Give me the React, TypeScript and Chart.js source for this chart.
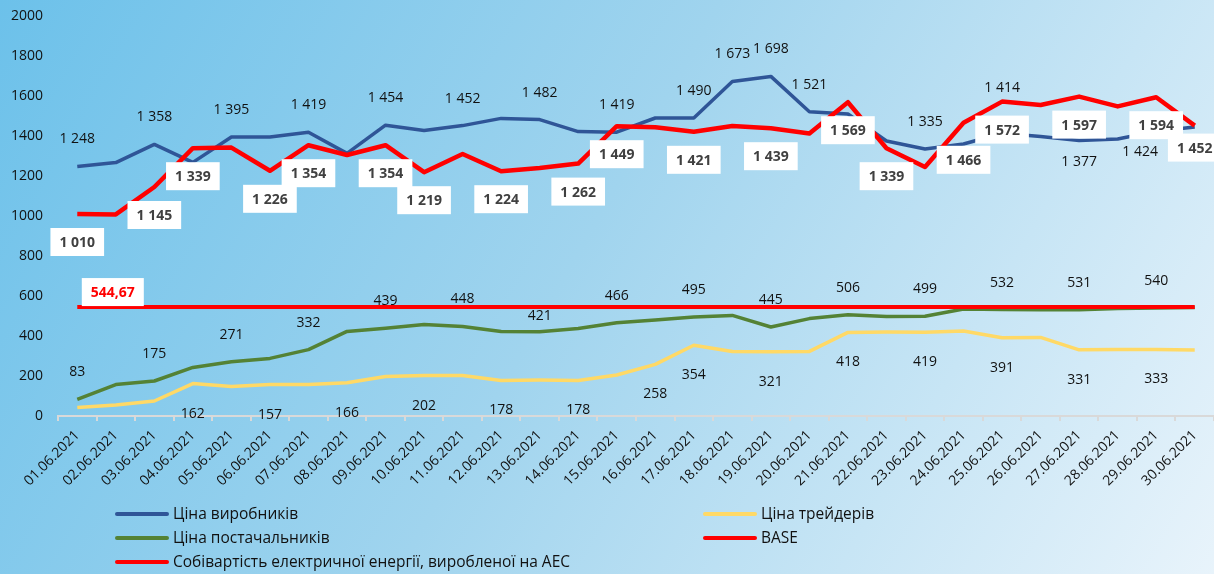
import { useEffect, useRef } from 'react';
import { Chart, registerables } from 'chart.js';

Chart.register(...registerables);

const categories = [
  '01.06.2021', '02.06.2021', '03.06.2021', '04.06.2021', '05.06.2021', '06.06.2021',
  '07.06.2021', '08.06.2021', '09.06.2021', '10.06.2021', '11.06.2021', '12.06.2021',
  '13.06.2021', '14.06.2021', '15.06.2021', '16.06.2021', '17.06.2021', '18.06.2021',
  '19.06.2021', '20.06.2021', '21.06.2021', '22.06.2021', '23.06.2021', '24.06.2021',
  '25.06.2021', '26.06.2021', '27.06.2021', '28.06.2021', '29.06.2021', '30.06.2021',
];

// Ціна виробників
const producerPrices = [
  1248, 1267, 1358, 1268, 1395, 1395, 1419, 1313, 1454, 1428, 1452, 1488, 1482, 1422, 1419,
  1490, 1490, 1673, 1698, 1521, 1510, 1375, 1335, 1360, 1414, 1397, 1377, 1385, 1424, 1445,
];
// Ціна трейдерів
const traderPrices = [
  42, 55, 75, 162, 147, 157, 158, 166, 197, 202, 203, 178, 180, 178, 205,
  258, 354, 323, 321, 323, 418, 420, 419, 425, 391, 393, 331, 333, 333, 330,
];
// Ціна постачальників
const supplierPrices = [
  83, 157, 175, 243, 271, 288, 332, 423, 439, 458, 448, 423, 421, 437, 466,
  480, 495, 503, 445, 487, 506, 498, 499, 535, 532, 531, 531, 537, 540, 543,
];
// BASE
const basePrices = [
  1010, 1008, 1145, 1339, 1342, 1226, 1354, 1305, 1354, 1219, 1310, 1224, 1240, 1262, 1449,
  1444, 1421, 1450, 1439, 1412, 1569, 1339, 1245, 1466, 1572, 1555, 1597, 1548, 1594, 1452,
];
// Собівартість електричної енергії, виробленої на АЕС
const npsCost = 544.67;
const npsCostSeries = categories.map(() => npsCost);

// which points carry a value label
const producerLabelIdx = [0, 2, 4, 6, 8, 10, 12, 14, 16, 17, 18, 19, 22, 24, 26, 28];
const traderLabelIdx = [3, 5, 7, 9, 11, 13, 15, 16, 18, 20, 22, 24, 26, 28];
const supplierLabelIdx = [0, 2, 4, 6, 8, 10, 12, 14, 16, 18, 20, 22, 24, 26, 28];
const baseLabelIdx = [0, 2, 3, 5, 6, 8, 9, 11, 13, 14, 16, 18, 20, 21, 23, 24, 26, 28, 29];
const npsLabelIdx = [1];

const yMin = 0;
const yMax = 2000;
const yStep = 200;

const COLORS = {
  producer: '#2F5597',
  trader: '#FFD966',
  supplier: '#548235',
  base: '#FF0000',
  nps: '#FF0000',
};

const fmtSpace = (v: number) =>
  v >= 1000 ? `${Math.floor(v / 1000)} ${String(Math.round(v % 1000)).padStart(3, '0')}` : String(Math.round(v));
const fmtComma = (v: number) => v.toFixed(2).replace('.', ',');

const bgPlugin = {
  id: 'bgGradient',
  beforeDraw(chart: any) {
    const { ctx, width, height } = chart;
    const g = ctx.createLinearGradient(0, 0, width, height * 1.2);
    g.addColorStop(0, '#6CC1EA');
    g.addColorStop(0.45, '#A0D4EE');
    g.addColorStop(1, '#EEF6FC');
    ctx.save();
    ctx.fillStyle = g;
    ctx.fillRect(0, 0, width, height);
    ctx.restore();
  },
};

const labelPlugin = {
  id: 'valueLabels',
  afterDatasetsDraw(chart: any) {
    const ctx = chart.ctx;
    chart.data.datasets.forEach((ds: any, di: number) => {
      const cfg = ds.valueLabels;
      if (!cfg) return;
      const meta = chart.getDatasetMeta(di);
      cfg.indices.forEach((i: number) => {
        const el = meta.data[i];
        if (!el) return;
        const ov = (cfg.overrides && cfg.overrides[i]) || {};
        const x = el.x + (ov.dx ?? 0);
        const y = el.y + (ov.dy ?? cfg.dy);
        const text = cfg.format(ds.data[i]);
        ctx.save();
        ctx.font = cfg.font;
        ctx.textAlign = 'center';
        ctx.textBaseline = 'middle';
        if (cfg.box) {
          const w = ctx.measureText(text).width + 18;
          const h = 28;
          ctx.fillStyle = '#FFFFFF';
          ctx.fillRect(x - w / 2, y - h / 2, w, h);
        }
        ctx.fillStyle = cfg.color;
        ctx.fillText(text, x, y + 1);
        ctx.restore();
      });
    });
  },
};

const legendItems = [
  { text: 'Ціна виробників', color: COLORS.producer, col: 0, row: 0 },
  { text: 'Ціна трейдерів', color: COLORS.trader, col: 1, row: 0 },
  { text: 'Ціна постачальників', color: COLORS.supplier, col: 0, row: 1 },
  { text: 'BASE', color: COLORS.base, col: 1, row: 1 },
  { text: 'Собівартість електричної енергії, виробленої на АЕС', color: COLORS.nps, col: 0, row: 2 },
];

const legendPlugin = {
  id: 'customLegend',
  afterDraw(chart: any) {
    const ctx = chart.ctx;
    const colX = [115, 703];
    const rowY = [514, 538, 562];
    legendItems.forEach((it) => {
      const x = colX[it.col];
      const y = rowY[it.row];
      ctx.save();
      ctx.strokeStyle = it.color;
      ctx.lineWidth = 4;
      ctx.lineCap = 'round';
      ctx.beginPath();
      ctx.moveTo(x + 2, y);
      ctx.lineTo(x + 52, y);
      ctx.stroke();
      ctx.font = '15.5px "Open Sans"';
      ctx.fillStyle = '#111111';
      ctx.textAlign = 'left';
      ctx.textBaseline = 'middle';
      ctx.fillText(it.text, x + 58, y + 1);
      ctx.restore();
    });
  },
};

export default function App() {
  const ref = useRef<HTMLCanvasElement>(null);

  useEffect(() => {
    const canvas = ref.current;
    if (!canvas) return;
    const plainFont = '14px "Open Sans"';
    const boldFont = '700 14px "Open Sans"';
    const chart = new Chart(canvas, {
      type: 'line',
      data: {
        labels: categories,
        datasets: [
          {
            label: 'Собівартість електричної енергії, виробленої на АЕС',
            data: npsCostSeries,
            borderColor: COLORS.nps,
            backgroundColor: COLORS.nps,
            borderWidth: 4,
            pointRadius: 0,
            tension: 0,
            valueLabels: {
              indices: npsLabelIdx, dy: -15, overrides: { 1: { dx: -3 } },
              font: boldFont, color: '#FF0000', box: true, format: fmtComma,
            },
          } as any,
          {
            label: 'BASE',
            data: basePrices,
            borderColor: COLORS.base,
            backgroundColor: COLORS.base,
            borderWidth: 4.5,
            pointRadius: 0,
            tension: 0,
            borderJoinStyle: 'round',
            valueLabels: {
              indices: baseLabelIdx, dy: 28, overrides: { 23: { dy: 37 }, 29: { dy: 22 } },
              font: boldFont, color: '#404040', box: true, format: fmtSpace,
            },
          } as any,
          {
            label: 'Ціна постачальників',
            data: supplierPrices,
            borderColor: COLORS.supplier,
            backgroundColor: COLORS.supplier,
            borderWidth: 3.5,
            pointRadius: 0,
            tension: 0,
            borderJoinStyle: 'round',
            valueLabels: {
              indices: supplierLabelIdx, dy: -28, overrides: { 12: { dy: -17 } },
              font: plainFont, color: '#111111', box: false, format: fmtSpace,
            },
          } as any,
          {
            label: 'Ціна трейдерів',
            data: traderPrices,
            borderColor: COLORS.trader,
            backgroundColor: COLORS.trader,
            borderWidth: 3.5,
            pointRadius: 0,
            tension: 0,
            borderJoinStyle: 'round',
            valueLabels: {
              indices: traderLabelIdx, dy: 29, overrides: {},
              font: plainFont, color: '#111111', box: false, format: fmtSpace,
            },
          } as any,
          {
            label: 'Ціна виробників',
            data: producerPrices,
            borderColor: COLORS.producer,
            backgroundColor: COLORS.producer,
            borderWidth: 3.5,
            pointRadius: 0,
            tension: 0,
            borderJoinStyle: 'round',
            valueLabels: {
              indices: producerLabelIdx, dy: -28,
              overrides: { 24: { dy: -46 }, 26: { dy: 20 }, 28: { dx: -16, dy: 20 } },
              font: plainFont, color: '#111111', box: false, format: fmtSpace,
            },
          } as any,
        ],
      },
      options: {
        responsive: false,
        animation: false,
        layout: { padding: { top: 16, bottom: 80, left: 0, right: 0 } },
        plugins: {
          legend: { display: false },
          tooltip: { enabled: false },
          title: { display: false },
        },
        scales: {
          x: {
            type: 'category',
            offset: true,
            grid: {
              display: true,
              offset: true,
              drawOnChartArea: false,
              drawTicks: true,
              tickLength: 5,
              color: '#D9D9D9',
              lineWidth: 2,
            },
            border: { display: true, color: '#D9D9D9', width: 2 },
            ticks: {
              autoSkip: false,
              minRotation: 45,
              maxRotation: 45,
              padding: 6,
              color: '#111111',
              font: { family: 'Open Sans', size: 14 },
            },
            afterFit: (s: any) => { s.height = 78; s.paddingTop = 0; },
          },
          y: {
            min: yMin,
            max: yMax,
            grid: { display: false, drawTicks: false },
            border: { display: false },
            ticks: {
              stepSize: yStep,
              padding: 15,
              color: '#111111',
              font: { family: 'Open Sans', size: 14 },
              callback: (v: any) => String(v),
            },
            afterFit: (s: any) => { s.width = 58; s.paddingTop = 0; s.paddingBottom = 0; },
          },
        },
      },
      plugins: [bgPlugin, labelPlugin, legendPlugin],
    } as any);
    return () => chart.destroy();
  }, []);

  return (
    <div style={{ position: 'absolute', left: 0, top: 0, width: 1214, height: 574 }}>
      <canvas ref={ref} width={1214} height={574} style={{ display: 'block' }} />
    </div>
  );
}
